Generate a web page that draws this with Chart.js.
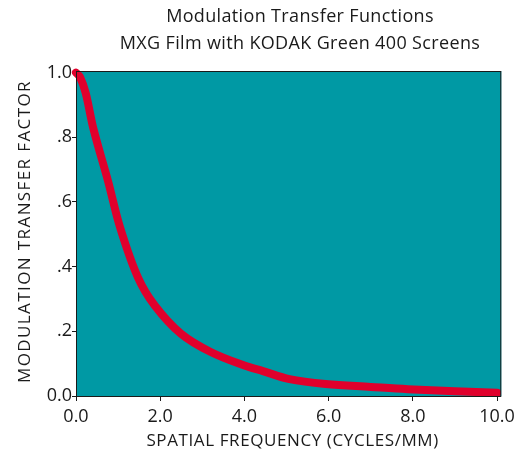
<!DOCTYPE html>
<html>
<head>
<meta charset="utf-8">
<script src="https://cdn.jsdelivr.net/npm/chart.js@4"></script>
<style>
  html, body { margin: 0; padding: 0; background: #fff; }
  #wrap { width: 520px; height: 456px; }
</style>
</head>
<body>
<div id="wrap"><canvas id="mtf" width="520" height="456"></canvas></div>
<script>
// spatial frequency (cycles/mm) and modulation transfer factor
const freq = [0, 0.1, 0.23, 0.42, 0.76, 1.05, 1.47, 1.87, 2.49, 3.2, 4.0, 4.44, 5.07, 5.93, 7.0, 7.88, 9.0, 10.0];
const mtf = [1.0, 0.985, 0.937, 0.823, 0.665, 0.52, 0.367, 0.28, 0.193, 0.136, 0.094, 0.077, 0.052, 0.037, 0.028, 0.021, 0.015, 0.01];
const xTicks = [0, 2, 4, 6, 8, 10];
const xTickLabels = ['0.0', '2.0', '4.0', '6.0', '8.0', '10.0'];
const yTicks = [0, 0.2, 0.4, 0.6, 0.8, 1.0];
const yTickLabels = ['0.0', '.2', '.4', '.6', '.8', '1.0'];
const titleLines = ['Modulation Transfer Functions', 'MXG Film with KODAK Green 400 Screens'];
const xTitle = 'SPATIAL FREQUENCY (CYCLES/MM)';
const yTitle = 'MODULATION TRANSFER FACTOR';

const FONT = "'Open Sans', 'Liberation Sans', sans-serif";
const INK = '#1a1a1a';

// teal plot box, frame, and the spaced-out titles
const plotBg = {
    id: 'plotBg',
    beforeDraw(chart) {
        const { ctx, chartArea: a } = chart;
        ctx.save();
        ctx.fillStyle = '#0099a4';
        ctx.fillRect(a.left, a.top, a.right - a.left, a.bottom - a.top);
        ctx.restore();
    },
    afterDraw(chart) {
        const { ctx, chartArea: a } = chart;
        ctx.save();
        ctx.strokeStyle = INK;
        ctx.lineWidth = 1;
        ctx.strokeRect(a.left + 0.5, a.top + 0.5, a.right - a.left - 1, a.bottom - a.top);

        ctx.fillStyle = INK;
        ctx.textAlign = 'center';
        ctx.textBaseline = 'middle';

        ctx.font = '18px ' + FONT;
        ctx.letterSpacing = '0.35px';
        ctx.fillText(titleLines[0], 300, 17);
        ctx.fillText(titleLines[1], 300, 44);

        ctx.font = '17px ' + FONT;
        ctx.letterSpacing = '0.6px';
        ctx.fillText(xTitle, (a.left + a.right) / 2 + 4, 441);

        ctx.translate(25, (a.top + a.bottom) / 2 - 2);
        ctx.rotate(-Math.PI / 2);
        ctx.letterSpacing = '1.4px';
        ctx.fillText(yTitle, 0, 0);
        ctx.restore();
    }
};

new Chart(document.getElementById('mtf'), {
    type: 'line',
    data: {
        datasets: [{
            data: freq.map((f, i) => ({ x: f, y: mtf[i] })),
            borderColor: '#e0002c',
            borderWidth: 8,
            pointRadius: 0,
            tension: 0.35,
            borderCapStyle: 'round',
            clip: false
        }]
    },
    plugins: [plotBg],
    options: {
        responsive: false,
        animation: false,
        layout: { padding: { top: 71, right: 12, left: 0, bottom: 0 } },
        plugins: {
            legend: { display: false },
            tooltip: { enabled: false }
        },
        scales: {
            x: {
                type: 'linear',
                min: 0,
                max: 10.1,
                afterBuildTicks: s => { s.ticks = xTicks.map(v => ({ value: v })); },
                afterFit: s => { s.height = 60; },
                border: { display: false },
                grid: { drawOnChartArea: false, tickLength: 5, color: INK },
                ticks: {
                    color: INK,
                    font: { family: FONT, size: 18 },
                    padding: 5,
                    maxRotation: 0,
                    callback: (v) => xTickLabels[xTicks.indexOf(v)]
                }
            },
            y: {
                min: 0,
                max: 1.005,
                afterBuildTicks: s => { s.ticks = yTicks.map(v => ({ value: v })); },
                afterFit: s => { s.width = 76; },
                border: { display: false },
                grid: { drawOnChartArea: false, tickLength: 4, color: INK },
                ticks: {
                    color: INK,
                    font: { family: FONT, size: 18 },
                    padding: 0,
                    callback: (v) => yTickLabels[yTicks.indexOf(v)]
                }
            }
        }
    }
});
</script>
</body>
</html>
